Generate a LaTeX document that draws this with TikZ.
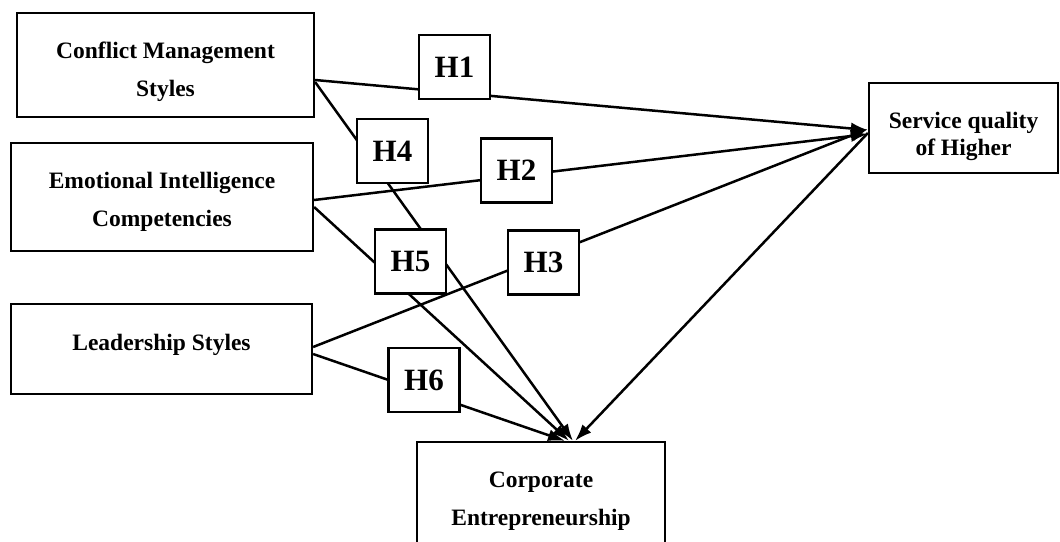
\documentclass[tikz,border=0pt]{standalone}
\usepackage{fontspec}
\setmainfont{Liberation Serif}
\usetikzlibrary{arrows.meta}

% invisible strut to set the text a bit lower / higher in its box
\newcommand{\pad}[2]{\rule[-#2]{0pt}{#1}}

\begin{document}
\begin{tikzpicture}[x=1pt,y=-1pt,
  var/.style={draw,line width=2.2pt,fill=white,align=center,inner sep=0pt,
    font=\bfseries\fontsize{23.5}{38}\selectfont},
  hyp/.style={draw,line width=2.2pt,fill=white,inner sep=0pt,
    minimum width=71pt,minimum height=64pt,font=\bfseries\fontsize{31}{36}\selectfont},
  link/.style={line width=2.5pt,-{Latex[length=17pt,width=12pt]}}]

  \useasboundingbox (0,0) rectangle (1060,541);

  % constructs
  \node[var,minimum width=297pt,minimum height=104pt] (cms) at (165.5,65)
    {\pad{30pt}{0pt}Conflict Management\\Styles};
  \node[var,minimum width=302pt,minimum height=108pt] (eic) at (162,197)
    {\pad{26pt}{0pt}Emotional Intelligence\\Competencies};
  \node[var,minimum width=301pt,minimum height=90pt] (ls) at (161.5,349)
    {\pad{0pt}{13pt}Leadership Styles};
  \node[var,minimum width=189pt,minimum height=90pt,
    font=\bfseries\fontsize{23.5}{27}\selectfont] (sq) at (963.5,128)
    {\pad{33pt}{0pt}Service quality\\of Higher};
  \node[var,minimum width=248pt,minimum height=110pt] (ce) at (541,497)
    {\pad{23pt}{0pt}Corporate\\Entrepreneurship};

  % paths
  \draw[link] ([yshift=-15pt]cms.east) -- ([yshift=-2pt]sq.west);
  \draw[link] ([yshift=-17pt]cms.east) -- ([xshift=32pt]ce.north);
  \draw[link] ([yshift=-3pt]eic.east) -- ([yshift=-6pt]sq.west);
  \draw[link] ([yshift=-10pt]eic.east) -- ([xshift=28pt]ce.north);
  \draw[link] ([yshift=2pt]ls.east) -- ([yshift=-1pt]sq.west);
  \draw[link] ([yshift=-5pt]ls.east) -- ([xshift=24pt]ce.north);
  \draw[link,{Latex[length=17pt,width=12pt]}-] ([xshift=34pt]ce.north) -- ([yshift=-5pt]sq.west);

  % hypotheses
  \node[hyp] (h1) at (454.5,67) {H1};
  \node[hyp] (h4) at (392.5,151) {H4};
  \node[hyp] (h2) at (516.5,170.5) {H2};
  \node[hyp] (h5) at (410.5,261.5) {H5};
  \node[hyp] (h3) at (543.5,262.5) {H3};
  \node[hyp] (h6) at (424,380) {H6};

\end{tikzpicture}
\end{document}
